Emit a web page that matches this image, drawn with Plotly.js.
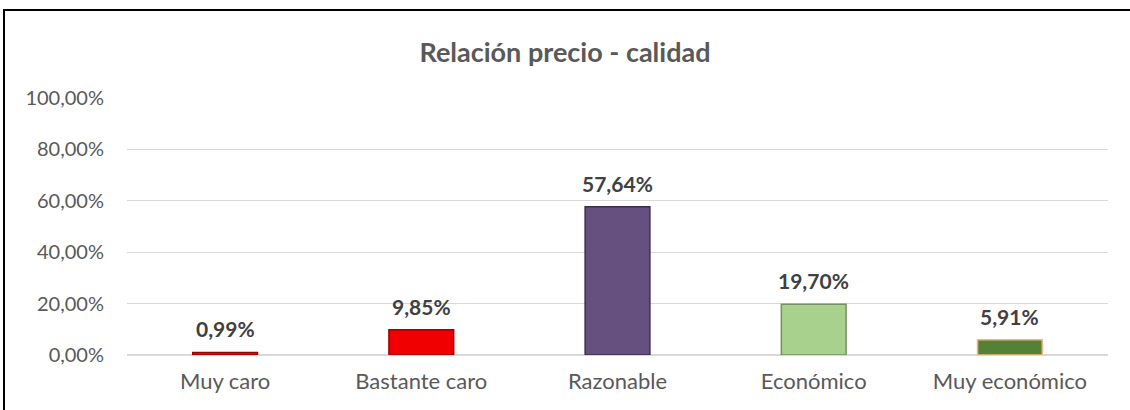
<!DOCTYPE html>
<html>
<head>
<meta charset="utf-8">
<script src="https://cdn.plot.ly/plotly-3.0.1.min.js"></script>
<style>
  html, body { margin: 0; padding: 0; background: #ffffff; }
  #wrap { position: relative; width: 1130px; height: 410px; overflow: hidden; }
  #frame { position: absolute; left: 3px; top: 9px; width: 1200px; height: 500px;
           border-left: 2px solid #000; border-top: 2px solid #000; pointer-events: none; }
  #chart { position: absolute; left: 0; top: 0; width: 1130px; height: 410px; }
</style>
</head>
<body>
<div id="wrap">
  <div id="chart"></div>
  <div id="frame"></div>
</div>
<script>
const categories = ["Muy caro", "Bastante caro", "Razonable", "Económico", "Muy económico"];
const shares = [0.0099, 0.0985, 0.5764, 0.1970, 0.0591];
const yTickValues = [0, 0.2, 0.4, 0.6, 0.8, 1.0];
const chartTitle = "Relación precio - calidad";

const barColors = ["#ff0000", "#f00000", "#65507f", "#a9d18e", "#548235"];
const lineColors = ["#a00000", "#a00000", "#3a2c4c", "#748f62", "#f4b183"];

const font = "Lato, 'Open Sans', sans-serif";

const trace = {
  type: "bar",
  x: categories,
  y: shares,
  width: 0.33,
  marker: { color: barColors, line: { color: lineColors, width: 1.5 } },
  hoverinfo: "x+y"
};

const fmt = v => (v * 100).toFixed(2).replace(".", ",") + "%";
const labels = categories.map((c, i) => ({
  x: c,
  y: shares[i],
  xref: "x",
  yref: "y",
  text: fmt(shares[i]),
  showarrow: false,
  yanchor: "bottom",
  yshift: 9,
  font: { family: font, size: 21, color: "#404040", weight: "bold" }
}));

const layout = {
  width: 1130,
  height: 410,
  margin: { l: 127, r: 22, t: 98, b: 55 },
  paper_bgcolor: "#ffffff",
  plot_bgcolor: "#ffffff",
  separators: ",.",
  showlegend: false,
  annotations: labels,
  title: {
    text: chartTitle,
    font: { family: font, size: 27, color: "#595959", weight: "bold" },
    xref: "container", x: 0.5, xanchor: "center",
    yref: "container", y: 0.873, yanchor: "middle"
  },
  xaxis: {
    type: "category",
    tickfont: { family: font, size: 22, color: "#595959" },
    showline: false,
    showgrid: false,
    zeroline: false,
    ticks: "",
    ticklabelstandoff: 11
  },
  yaxis: {
    range: [0, 1.0],
    tickvals: yTickValues,
    tickformat: ".2%",
    tickfont: { family: font, size: 20, color: "#595959" },
    showgrid: true,
    gridcolor: "#d9d9d9",
    gridwidth: 1.3,
    zeroline: true,
    zerolinecolor: "#d9d9d9",
    zerolinewidth: 1.3,
    showline: false,
    ticks: "",
    ticklabelstandoff: 22
  }
};

Plotly.newPlot("chart", [trace], layout, { displayModeBar: false, staticPlot: true });
</script>
</body>
</html>
